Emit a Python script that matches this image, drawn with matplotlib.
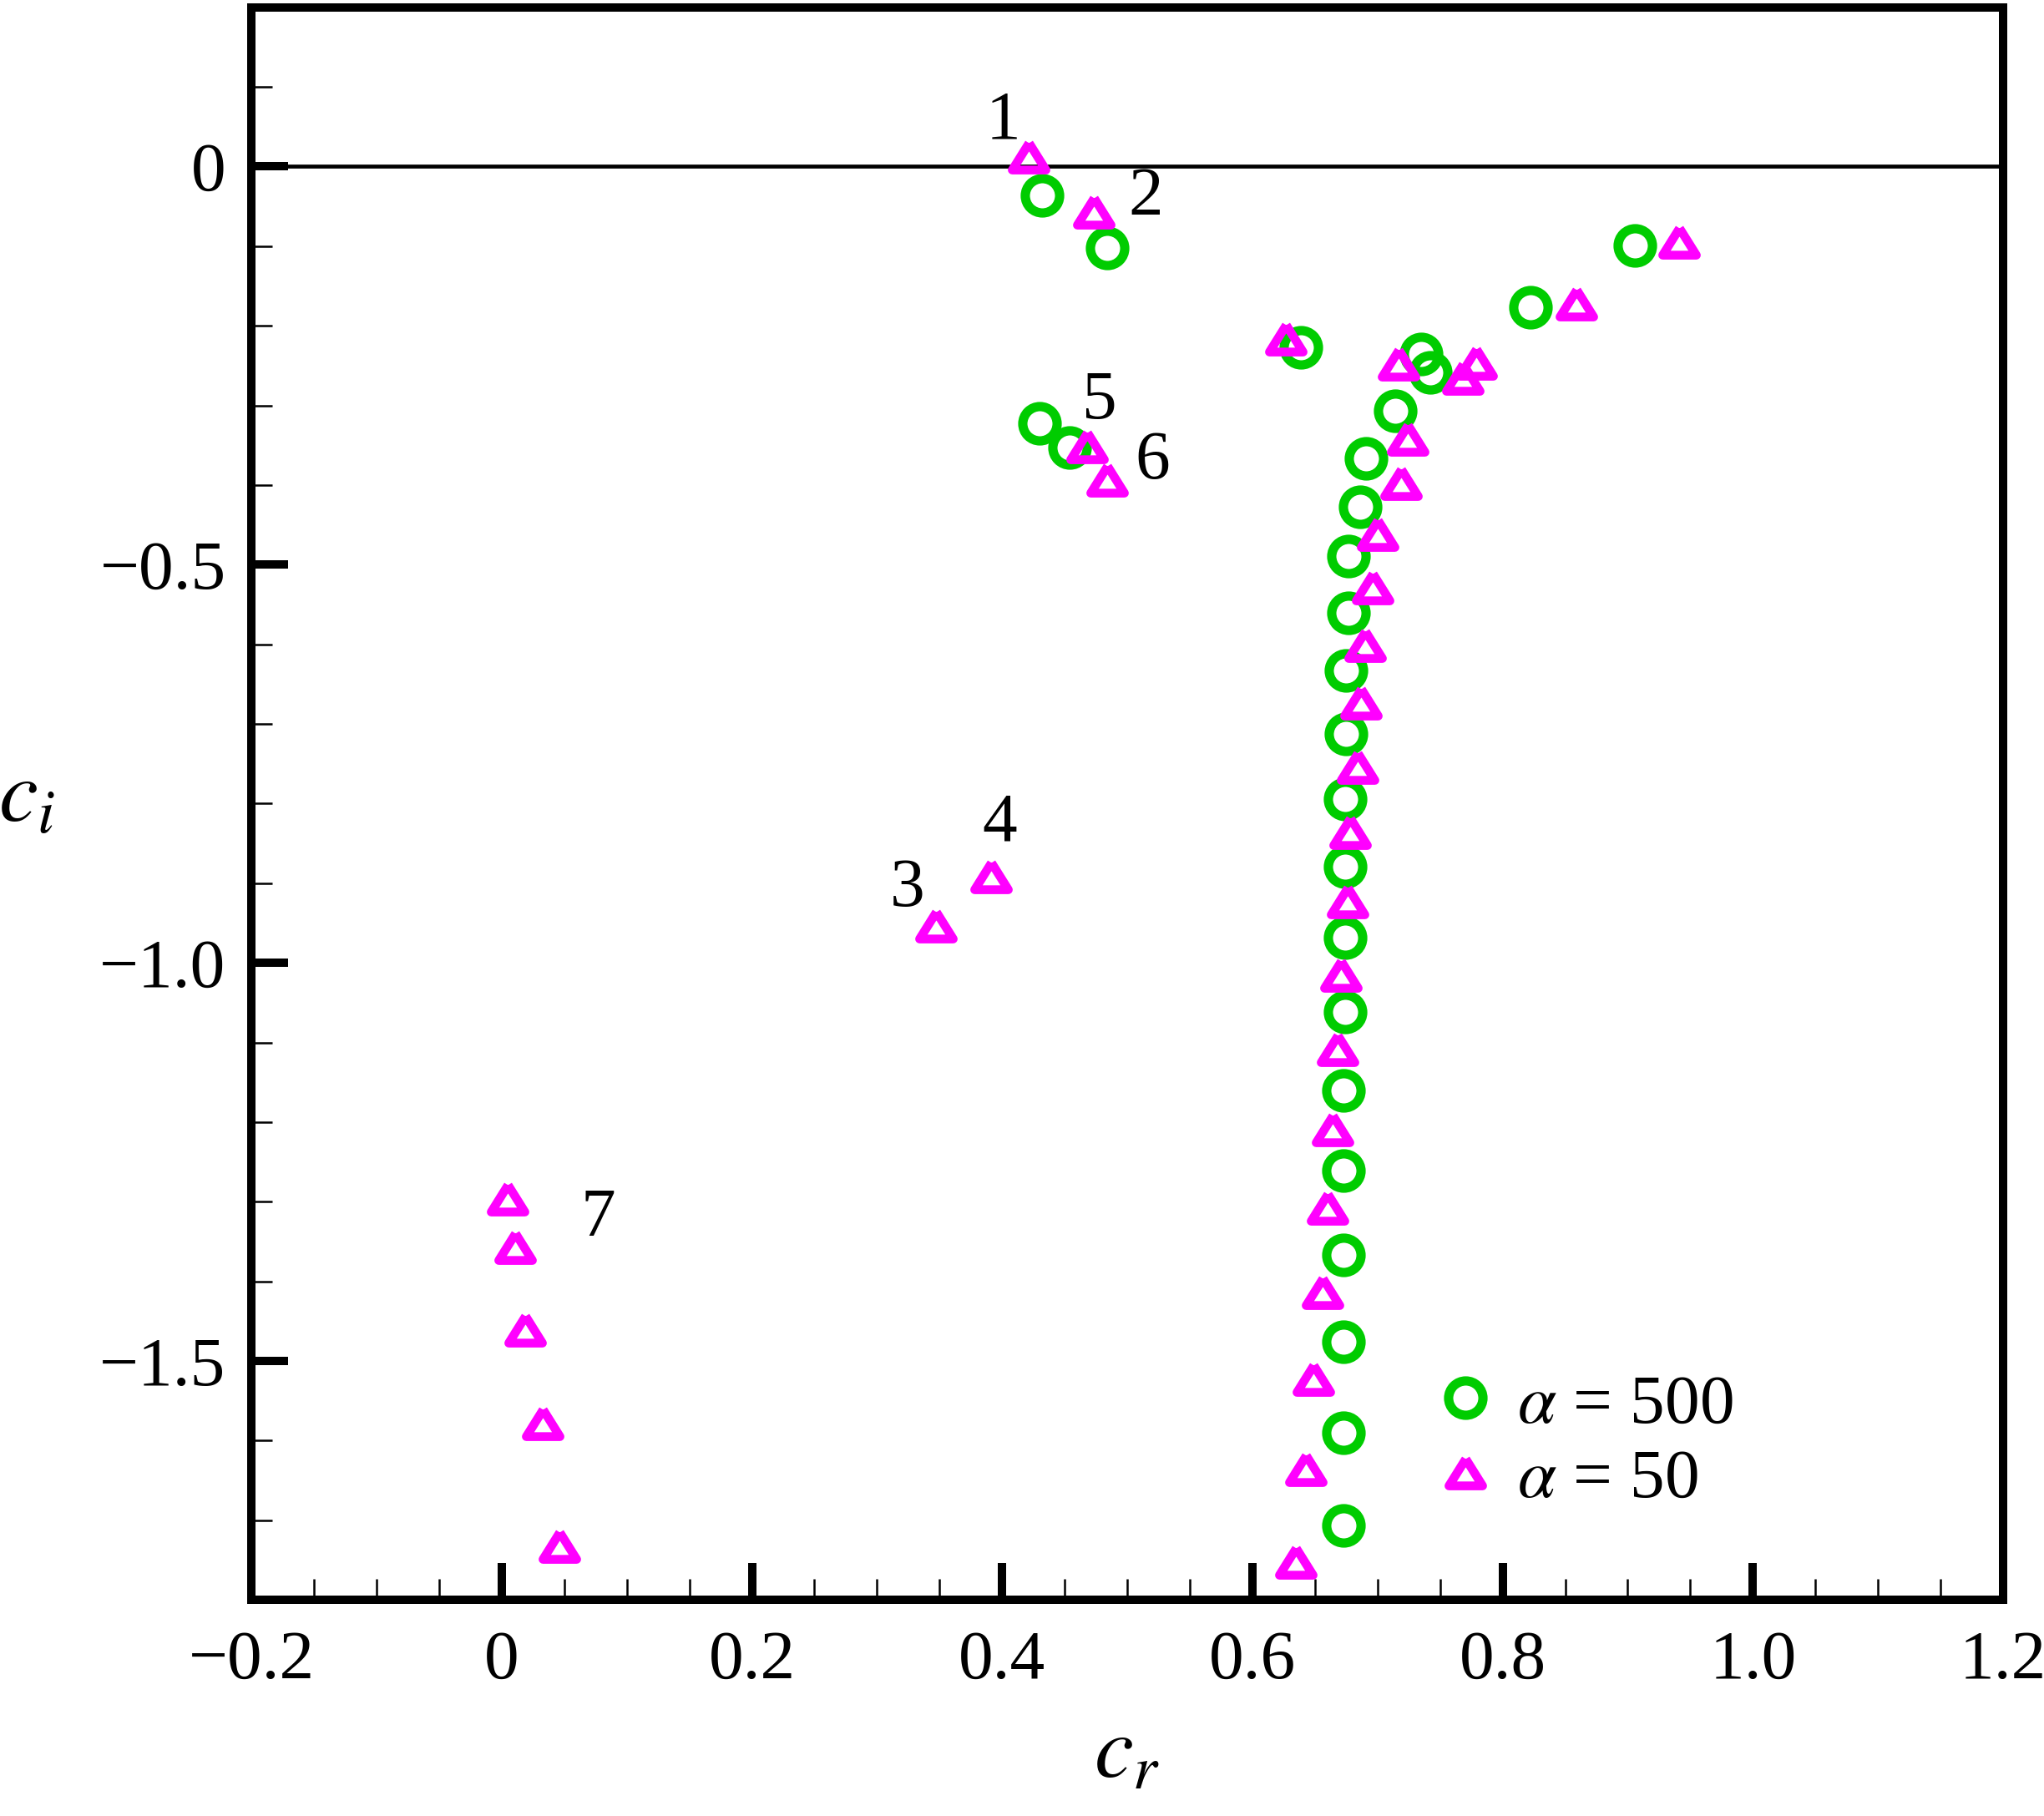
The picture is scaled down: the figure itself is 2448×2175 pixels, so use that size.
import matplotlib
matplotlib.use('Agg')
import matplotlib.pyplot as plt
from matplotlib.markers import MarkerStyle
from matplotlib.ticker import MultipleLocator, FixedLocator

plt.rcParams['font.family'] = ['Liberation Serif', 'DejaVu Serif']
plt.rcParams['mathtext.fontset'] = 'stix'

# alpha = 500 (circles)
cr_500 = [0.432, 0.484, 0.430, 0.454, 0.639, 0.735, 0.742, 0.822, 0.906,
          0.714, 0.691, 0.686, 0.677, 0.677, 0.675, 0.675, 0.674, 0.674,
          0.674, 0.674, 0.673, 0.673, 0.673, 0.673, 0.673, 0.673]
ci_500 = [-0.036, -0.102, -0.322, -0.353, -0.227, -0.235, -0.259, -0.177, -0.0995,
          -0.307, -0.366, -0.427, -0.489, -0.560, -0.633, -0.712, -0.794, -0.879,
          -0.968, -1.062, -1.160, -1.261, -1.367, -1.476, -1.590, -1.707]

# alpha = 50 (triangles)
cr_50 = [0.4215, 0.473, 0.347, 0.391, 0.468, 0.484, 0.005, 0.011, 0.019,
         0.033, 0.046, 0.627, 0.717, 0.768, 0.779, 0.859, 0.941, 0.724,
         0.719, 0.700, 0.696, 0.690, 0.687, 0.684, 0.678, 0.676, 0.671,
         0.668, 0.664, 0.660, 0.656, 0.649, 0.643, 0.635]
ci_50 = [0.013, -0.056, -0.953, -0.891, -0.351, -0.393, -1.295, -1.356, -1.460,
         -1.578, -1.732, -0.215, -0.247, -0.265, -0.246, -0.171, -0.094, -0.341,
         -0.397, -0.461, -0.528, -0.600, -0.673, -0.753, -0.835, -0.922, -1.014,
         -1.108, -1.208, -1.307, -1.413, -1.522, -1.635, -1.752]

# mode numbers
mode_labels = ['1', '2', '3', '4', '5', '6', '7']
mode_x = [0.401, 0.515, 0.324, 0.398, 0.478, 0.520, 0.077]
mode_y = [0.056, -0.040, -0.908, -0.826, -0.295, -0.371, -1.322]

xticks = [-0.2, 0.0, 0.2, 0.4, 0.6, 0.8, 1.0, 1.2]
xticklabels = ['\u22120.2', '0', '0.2', '0.4', '0.6', '0.8', '1.0', '1.2']
yticks = [0.0, -0.5, -1.0, -1.5]
yticklabels = ['0', '\u22120.5', '\u22121.0', '\u22121.5']

green = '#00cc00'
magenta = '#ff00ff'

fig = plt.figure(figsize=(12.24, 10.875), dpi=200)
ax = fig.add_axes([0.123, 0.119, 0.857, 0.877])

tri = MarkerStyle([(0, 0.8), (-1, -0.8), (1, -0.8), (0, 0.8)], joinstyle='miter')

ax.axhline(0, color='k', lw=1.7, zorder=1)
ax.plot(cr_500, ci_500, linestyle='none', marker='o', ms=14.8, mfc='none',
        mec=green, mew=4.0, label=r'$\alpha$ = 500', zorder=3)
ax.plot(cr_50, ci_50, linestyle='none', marker=tri, ms=14.5, mfc='none',
        mec=magenta, mew=3.8, label=r'$\alpha$ = 50', zorder=4)

for lab, x, y in zip(mode_labels, mode_x, mode_y):
    ax.text(x, y, lab, fontsize=30, ha='center', va='center')

ax.set_xlim(-0.2, 1.2)
ax.set_ylim(-1.8, 0.2)
ax.xaxis.set_major_locator(FixedLocator(xticks))
ax.set_xticklabels(xticklabels)
ax.yaxis.set_major_locator(FixedLocator(yticks))
ax.set_yticklabels(yticklabels)
ax.xaxis.set_minor_locator(MultipleLocator(0.05))
ax.yaxis.set_minor_locator(MultipleLocator(0.1))

ax.tick_params(which='both', direction='in', top=False, right=False, labelsize=30)
ax.tick_params(which='major', length=16, width=3.6, pad=13)
ax.tick_params(which='minor', length=9, width=0.9)
ax.tick_params(axis='y', which='major', pad=11)

for s in ax.spines.values():
    s.set_linewidth(3.6)

ax.set_xlabel(r'$c_r$', fontsize=38, labelpad=10)
ax.set_ylabel(r'$c_i$', fontsize=38, rotation=0, ha='center', va='center')
ax.yaxis.set_label_coords(-0.128, 0.502)

ax.legend(loc='upper left', bbox_to_anchor=(0.673, 0.142), frameon=False,
          fontsize=30, handlelength=1.0, handletextpad=0.25, labelspacing=0.15,
          borderpad=0, borderaxespad=0, numpoints=1)

fig.savefig('out.png', dpi=200)
